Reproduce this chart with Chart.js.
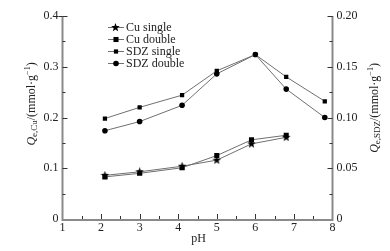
<!DOCTYPE html>
<html><head><meta charset="utf-8">
<script src="https://cdn.jsdelivr.net/npm/chart.js@4"></script>
<style>html,body{margin:0;padding:0;background:#fff}#wrap{width:390px;height:251px}</style>
</head><body><div id="wrap"><canvas id="c" width="390" height="251"></canvas></div>
<script>
const cuPH = [2.1, 3, 4.1, 5, 5.9, 6.8];
const sdzPH = [2.1, 3, 4.1, 5, 6, 6.8, 7.8];
const cuSingle = [0.086, 0.093, 0.104, 0.116, 0.148, 0.161];
const cuDouble = [0.083, 0.090, 0.101, 0.125, 0.156, 0.165];
const sdzSingle = [0.099, 0.110, 0.122, 0.146, 0.162, 0.140, 0.116];
const sdzDouble = [0.087, 0.096, 0.112, 0.143, 0.162, 0.128, 0.100];
const xTicks = [1, 2, 3, 4, 5, 6, 7, 8];
const yLeftTicks = ['0', '0.1', '0.2', '0.3', '0.4'];
const yRightTicks = ['0', '0.05', '0.10', '0.15', '0.20'];
const seriesNames = ['Cu single', 'Cu double', 'SDZ single', 'SDZ double'];

function starCanvas(size) {
  const cv = document.createElement('canvas');
  cv.width = size; cv.height = size;
  const g = cv.getContext('2d');
  g.fillStyle = '#000';
  g.beginPath();
  const cx = size / 2, cy = size / 2, R = size / 2, r = R * 0.42;
  for (let i = 0; i < 10; i++) {
    const a = -Math.PI / 2 + i * Math.PI / 5;
    const rr = i % 2 ? r : R;
    g.lineTo(cx + rr * Math.cos(a), cy + rr * Math.sin(a));
  }
  g.closePath(); g.fill();
  return cv;
}
const star = starCanvas(9);
const pts = (xs, ys) => xs.map((x, i) => ({x: x, y: ys[i]}));
const LINE = '#707070';
const AX = '#8a8a8a';
const FONT = '"Liberation Serif","Times New Roman",serif';

const styles = [
  {pointStyle: star, radius: 4.5},
  {pointStyle: 'rect', radius: 3.6},
  {pointStyle: 'rect', radius: 3},
  {pointStyle: 'circle', radius: 2.8}
];

const overlay = {
  id: 'overlay',
  afterDraw(chart) {
    const ctx = chart.ctx;
    const x = chart.scales.x, y = chart.scales.y, y1 = chart.scales.y1;
    const L = x.left, R = x.right, T = y.top, B = y.bottom;
    ctx.save();
    // axes
    ctx.strokeStyle = AX; ctx.lineWidth = 2;
    ctx.beginPath();
    ctx.moveTo(L, T); ctx.lineTo(L, B + 1); ctx.lineTo(R, B + 1); ctx.lineTo(R, T);
    ctx.stroke();
    ctx.strokeStyle = '#333'; ctx.lineWidth = 1;
    ctx.beginPath();
    for (let v = 1; v <= 8; v += 0.5) {
      const px = Math.round(x.getPixelForValue(v)) + 0.5;
      const len = Number.isInteger(v) ? 5 : 3;
      if (v === 1 || v === 8) continue;
      ctx.moveTo(px, B); ctx.lineTo(px, B - len);
    }
    for (let v = 0.05; v < 0.4; v += 0.05) {
      const py = Math.round(y.getPixelForValue(v)) + 0.5;
      const major = Math.abs(v * 10 - Math.round(v * 10)) < 1e-6;
      ctx.moveTo(L, py); ctx.lineTo(L + (major ? 5 : 3), py);
    }
    ctx.moveTo(L, Math.round(y.getPixelForValue(0.4)) + 0.5); ctx.lineTo(L - 4, Math.round(y.getPixelForValue(0.4)) + 0.5);
    for (let v = 0.025; v < 0.2; v += 0.025) {
      const py = Math.round(y1.getPixelForValue(v)) + 0.5;
      const major = Math.abs(v * 20 - Math.round(v * 20)) < 1e-6;
      ctx.moveTo(R, py); ctx.lineTo(R - (major ? 5 : 3), py);
    }
    ctx.moveTo(R, Math.round(y1.getPixelForValue(0.2)) + 0.5); ctx.lineTo(R - 4, Math.round(y1.getPixelForValue(0.2)) + 0.5);
    ctx.stroke();

    // axis titles
    function rich(parts, cx, cy) {
      let w = 0;
      parts.forEach(p => { ctx.font = p.f; p.w = ctx.measureText(p.t).width; w += p.w; });
      ctx.save();
      ctx.translate(cx, cy); ctx.rotate(-Math.PI / 2);
      let px = -w / 2;
      ctx.textBaseline = 'middle'; ctx.textAlign = 'left'; ctx.fillStyle = '#222';
      parts.forEach(p => { ctx.font = p.f; ctx.fillText(p.t, px, p.dy || 0); px += p.w; });
      ctx.restore();
    }
    const mk = sub => [
      {t: 'Q', f: 'italic 12px ' + FONT},
      {t: sub, f: '9px ' + FONT, dy: 3},
      {t: '/(mmol·g', f: '12px ' + FONT},
      {t: '−1', f: '8px ' + FONT, dy: -4},
      {t: ')', f: '12px ' + FONT}
    ];
    rich(mk('e,Cu'), 32, 104);
    rich(mk('e,SDZ'), 375, 108);

    ctx.font = '12px ' + FONT; ctx.fillStyle = '#222';
    ctx.textAlign = 'center'; ctx.textBaseline = 'middle';
    ctx.fillText('pH', (L + R) / 2 + 1, 239);

    // legend
    chart.data.datasets.forEach((ds, i) => {
      const ly = 27 + i * 12;
      ctx.strokeStyle = LINE; ctx.lineWidth = 1;
      ctx.beginPath(); ctx.moveTo(108, ly + 0.5); ctx.lineTo(124, ly + 0.5); ctx.stroke();
      const st = styles[i];
      ctx.fillStyle = '#000';
      if (st.pointStyle === star) ctx.drawImage(star, 111, ly - 4);
      else if (st.pointStyle === 'rect') { const s = st.radius * 1.41; ctx.fillRect(116 - s / 2, ly + 0.5 - s / 2, s, s); }
      else { ctx.beginPath(); ctx.arc(116, ly + 0.5, st.radius, 0, Math.PI * 2); ctx.fill(); }
      ctx.fillStyle = '#222'; ctx.font = '12px ' + FONT; ctx.textAlign = 'left';
      ctx.fillText(seriesNames[i], 126, ly + 0.5);
    });
    ctx.restore();
  }
};

const mkDs = (label, data, axis, i) => ({
  label, data, yAxisID: axis,
  borderColor: LINE, borderWidth: 1, backgroundColor: '#000',
  pointBackgroundColor: '#000', pointBorderColor: '#000', pointBorderWidth: 0,
  pointStyle: styles[i].pointStyle, pointRadius: styles[i].radius, tension: 0
});

const gridOff = {display: false, drawTicks: false, tickLength: 0};

new Chart(document.getElementById('c'), {
  type: 'line',
  data: {
    datasets: [
      mkDs(seriesNames[0], pts(cuPH, cuSingle), 'y', 0),
      mkDs(seriesNames[1], pts(cuPH, cuDouble), 'y', 1),
      mkDs(seriesNames[2], pts(sdzPH, sdzSingle), 'y1', 2),
      mkDs(seriesNames[3], pts(sdzPH, sdzDouble), 'y1', 3)
    ]
  },
  options: {
    responsive: false, animation: false,
    layout: {padding: {top: 16, left: 0, right: 0, bottom: 0}},
    plugins: {legend: {display: false}, tooltip: {enabled: false}},
    scales: {
      x: {
        type: 'linear', min: 1, max: 8,
        afterBuildTicks: s => { s.ticks = xTicks.map(v => ({value: v})); },
        afterFit: s => { s.height = 32; },
        grid: gridOff, border: {display: false},
        ticks: {padding: 2, color: '#222', font: {family: FONT, size: 12}, maxRotation: 0, callback: v => String(v)}
      },
      y: {
        type: 'linear', position: 'left', min: 0, max: 0.4,
        afterBuildTicks: s => { s.ticks = yLeftTicks.map(v => ({value: parseFloat(v)})); },
        afterFit: s => { s.width = 62.5; },
        grid: gridOff, border: {display: false},
        ticks: {padding: 4, color: '#222', font: {family: FONT, size: 12},
          callback: (v, i) => yLeftTicks[i]}
      },
      y1: {
        type: 'linear', position: 'right', min: 0, max: 0.2,
        afterBuildTicks: s => { s.ticks = yRightTicks.map(v => ({value: parseFloat(v)})); },
        afterFit: s => { s.width = 57.5; },
        grid: gridOff, border: {display: false},
        ticks: {padding: 4, color: '#222', font: {family: FONT, size: 12},
          callback: (v, i) => yRightTicks[i]}
      }
    }
  },
  plugins: [overlay]
});
</script>
</body></html>
